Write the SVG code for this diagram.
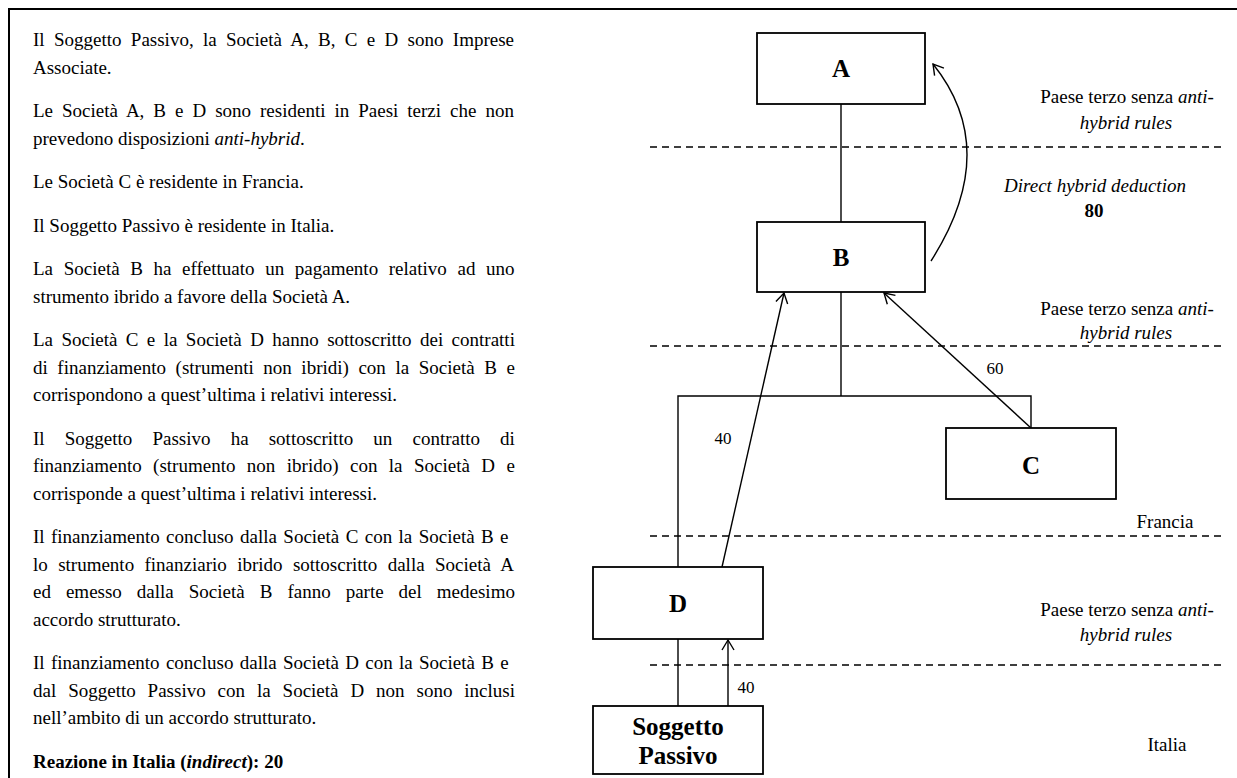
<svg xmlns="http://www.w3.org/2000/svg" width="1237" height="778" viewBox="0 0 1237 778">
<style>
.t{font-family:"Liberation Serif","Times New Roman",serif;font-size:19px;fill:#000}
.lbl{font-family:"Liberation Serif","Times New Roman",serif;font-size:17px;fill:#000}
.bx{fill:#fff;stroke:#000;stroke-width:1.8}
.bt{font-family:"Liberation Serif","Times New Roman",serif;font-size:25px;font-weight:bold;fill:#000;text-anchor:middle}
.ln{stroke:#000;stroke-width:1.4;fill:none}
.ds{stroke:#000;stroke-width:1.4;stroke-dasharray:7 5;fill:none}
.c{text-anchor:middle}
</style>
<defs>
<marker id="arr" markerUnits="userSpaceOnUse" markerWidth="20" markerHeight="20" refX="0" refY="0" viewBox="-12 -10 14 20" orient="auto">
<path d="M -10 -6 L 0 0 L -10 6" fill="none" stroke="#000" stroke-width="1.4"/>
</marker>
</defs>
<rect width="1237" height="778" fill="#fff"/>
<g id="frame">
<line x1="8" y1="9" x2="1237" y2="9" stroke="#000" stroke-width="2"/>
<line x1="9" y1="8" x2="9" y2="778" stroke="#000" stroke-width="2"/>
</g>
<g id="text-left" class="t">
<text x="33" y="46" word-spacing="4.58">Il Soggetto Passivo, la Società A, B, C e D sono Imprese</text>
<text x="33" y="73.5">Associate.</text>
<text x="33" y="117" word-spacing="4.24">Le Società A, B e D sono residenti in Paesi terzi che non</text>
<text x="33" y="144.5">prevedono disposizioni <tspan font-style="italic">anti-hybrid</tspan>.</text>
<text x="33" y="188">Le Società C è residente in Francia.</text>
<text x="33" y="231.5">Il Soggetto Passivo è residente in Italia.</text>
<text x="33" y="275" word-spacing="5.88">La Società B ha effettuato un pagamento relativo ad uno</text>
<text x="33" y="302.5">strumento ibrido a favore della Società A.</text>
<text x="33" y="346" word-spacing="3.66">La Società C e la Società D hanno sottoscritto dei contratti</text>
<text x="33" y="373.5" word-spacing="4.83">di finanziamento (strumenti non ibridi) con la Società B e</text>
<text x="33" y="401">corrispondono a quest’ultima i relativi interessi.</text>
<text x="33" y="444.5" word-spacing="15.39">Il Soggetto Passivo ha sottoscritto un contratto di</text>
<text x="33" y="472" word-spacing="6.69">finanziamento (strumento non ibrido) con la Società D e</text>
<text x="33" y="499.5">corrisponde a quest’ultima i relativi interessi.</text>
<text x="33" y="543" word-spacing="1.65">Il finanziamento concluso dalla Società C con la Società B e</text>
<text x="33" y="570.5" word-spacing="5.61">lo strumento finanziario ibrido sottoscritto dalla Società A</text>
<text x="33" y="598" word-spacing="10.25">ed emesso dalla Società B fanno parte del medesimo</text>
<text x="33" y="625.5">accordo strutturato.</text>
<text x="33" y="669" word-spacing="1.56">Il finanziamento concluso dalla Società D con la Società B e</text>
<text x="33" y="696.5" word-spacing="7.17">dal Soggetto Passivo con la Società D non sono inclusi</text>
<text x="33" y="724">nell’ambito di un accordo strutturato.</text>
<text x="33" y="767.5" font-weight="bold">Reazione in Italia (<tspan font-style="italic">indirect</tspan>): 20</text>
</g>
<g id="zones" class="t">
<line class="ds" x1="650" y1="147" x2="1225" y2="147"/>
<line class="ds" x1="650" y1="346" x2="1225" y2="346"/>
<line class="ds" x1="650" y1="536" x2="1225" y2="536"/>
<line class="ds" x1="650" y1="665" x2="1225" y2="665"/>
<text class="c" x="1127" y="103">Paese terzo senza <tspan font-style="italic">anti-</tspan></text>
<text class="c" x="1126" y="129" font-style="italic">hybrid rules</text>
<text class="c" x="1127" y="315">Paese terzo senza <tspan font-style="italic">anti-</tspan></text>
<text class="c" x="1126" y="339" font-style="italic">hybrid rules</text>
<text class="c" x="1165" y="528">Francia</text>
<text class="c" x="1127" y="616">Paese terzo senza <tspan font-style="italic">anti-</tspan></text>
<text class="c" x="1126" y="641" font-style="italic">hybrid rules</text>
<text class="c" x="1167" y="751">Italia</text>
<text class="c" x="1095" y="192" font-style="italic">Direct hybrid deduction</text>
<text class="c" x="1094" y="217" font-weight="bold">80</text>
</g>
<g id="connectors">
<line class="ln" x1="841" y1="104" x2="841" y2="222"/>
<line class="ln" x1="841" y1="292" x2="841" y2="396"/>
<polyline class="ln" points="678,567 678,396 1031,396 1031,428"/>
<line class="ln" x1="678" y1="639" x2="678" y2="706"/>
<path class="ln" d="M 931 261 Q 1002 150 933 64" marker-end="url(#arr)"/>
<line class="ln" x1="1031" y1="428" x2="884" y2="293" marker-end="url(#arr)"/>
<line class="ln" x1="722" y1="567" x2="784" y2="293" marker-end="url(#arr)"/>
<line class="ln" x1="728" y1="706" x2="728" y2="640" marker-end="url(#arr)"/>
<text class="lbl" x="995" y="374" text-anchor="middle">60</text>
<text class="lbl" x="723" y="444" text-anchor="middle">40</text>
<text class="lbl" x="746" y="693" text-anchor="middle">40</text>
</g>
<g id="node-A"><rect class="bx" x="757" y="33" width="168" height="71"/><text class="bt" x="841" y="77">A</text></g>
<g id="node-B"><rect class="bx" x="757" y="222" width="168" height="70"/><text class="bt" x="841" y="266">B</text></g>
<g id="node-C"><rect class="bx" x="946" y="428" width="170" height="71"/><text class="bt" x="1031" y="474">C</text></g>
<g id="node-D"><rect class="bx" x="593" y="567" width="170" height="72"/><text class="bt" x="678" y="612">D</text></g>
<g id="node-SP"><rect class="bx" x="593" y="706" width="170" height="68"/><text class="bt" x="678" y="735">Soggetto</text><text class="bt" x="678" y="764">Passivo</text></g>
</svg>
